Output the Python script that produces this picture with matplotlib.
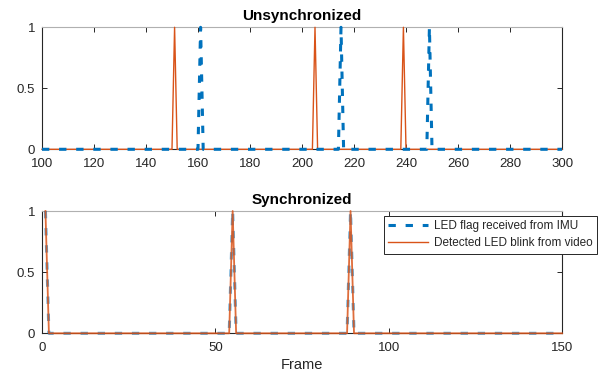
import numpy as np
import matplotlib
matplotlib.use("Agg")
import matplotlib.pyplot as plt

plt.rcParams['font.family'] = ['Liberation Sans', 'DejaVu Sans']

# data
unsync_frames = np.arange(100, 301)
unsync_imu_spikes = [161, 215, 249]
unsync_video_spikes = [151, 205, 239]

sync_frames = np.arange(1, 151)
sync_imu_spikes = [1, 55, 89]
sync_video_spikes = [1, 55, 89]

top_xticks = [100, 120, 140, 160, 180, 200, 220, 240, 260, 280, 300]
bottom_xticks = [0, 50, 100, 150]
yticks = [0, 0.5, 1]
ytick_labels = ['0', '0.5', '1']

labels = ['LED flag received from IMU', 'Detected LED blink from video']
blue = '#0072BD'
red = '#D95319'
dark = '#262626'


def make_series(frames, spikes):
    y = np.zeros(len(frames))
    for s in spikes:
        y[frames == s] = 1
    return y


def style_axes(ax, xlim, xticks):
    ax.set_xlim(xlim)
    ax.set_ylim(0, 1)
    ax.set_xticks(xticks)
    ax.set_yticks(yticks)
    ax.set_yticklabels(ytick_labels)
    ax.tick_params(direction='in', length=3.5, width=0.7, colors=dark,
                   labelsize=9.5, top=True, right=True)
    ax.tick_params(axis='x', pad=6)
    ax.tick_params(axis='y', pad=5)
    for side in ['left', 'right', 'bottom']:
        ax.spines[side].set_color(dark)
        ax.spines[side].set_linewidth(0.8)
    ax.spines['top'].set_color('#b0b0b0')
    ax.spines['top'].set_linewidth(0.8)


fig = plt.figure(figsize=(6.04, 3.77), dpi=100)
ax1 = fig.add_axes([0.0695, 0.604, 0.861, 0.3236])
ax2 = fig.add_axes([0.0695, 0.1159, 0.861, 0.3244])

# Unsynchronized
ax1.plot(unsync_frames, make_series(unsync_frames, unsync_video_spikes),
         color=red, lw=1.0, zorder=3, clip_on=False)
l1, = ax1.plot(unsync_frames, make_series(unsync_frames, unsync_imu_spikes),
               color=blue, lw=2.2, zorder=4, clip_on=False, snap=False)
l1.set_dashes((2.4, 3.2))
style_axes(ax1, (100, 300), top_xticks)
ax1.set_title('Unsynchronized', fontsize=11, fontweight='bold', pad=5)

# Synchronized
l2, = ax2.plot(sync_frames, make_series(sync_frames, sync_imu_spikes),
               color=blue, lw=2.2, alpha=0.65, label=labels[0], zorder=3,
               clip_on=False, snap=False)
l2.set_dashes((2.4, 3.2))
ax2.plot(sync_frames, make_series(sync_frames, sync_video_spikes),
         color=red, lw=1.3, alpha=0.85, label=labels[1], zorder=4,
         clip_on=False)
style_axes(ax2, (0, 150), bottom_xticks)
ax2.set_title('Synchronized', fontsize=11, fontweight='bold', pad=5)
ax2.set_xlabel('Frame', fontsize=10.5, color=dark, labelpad=3)

h_blue = plt.Line2D([], [], color=blue, lw=2.2)
h_blue.set_dashes((2.4, 3.2))
h_red = plt.Line2D([], [], color=red, lw=1.0)
leg = ax2.legend([h_blue, h_red], labels, loc='upper right',
                 bbox_to_anchor=(597 / 604, 1 - 216 / 377),
                 bbox_transform=fig.transFigure, fontsize=8.5,
                 fancybox=False, framealpha=1, edgecolor=dark,
                 handlelength=3.4, handletextpad=0.5, borderpad=0.35,
                 labelspacing=0.45, borderaxespad=0)
leg.get_frame().set_linewidth(0.7)
leg.set_zorder(5)
for t in leg.get_texts():
    t.set_color(dark)

fig.savefig('out.png', dpi=100)
